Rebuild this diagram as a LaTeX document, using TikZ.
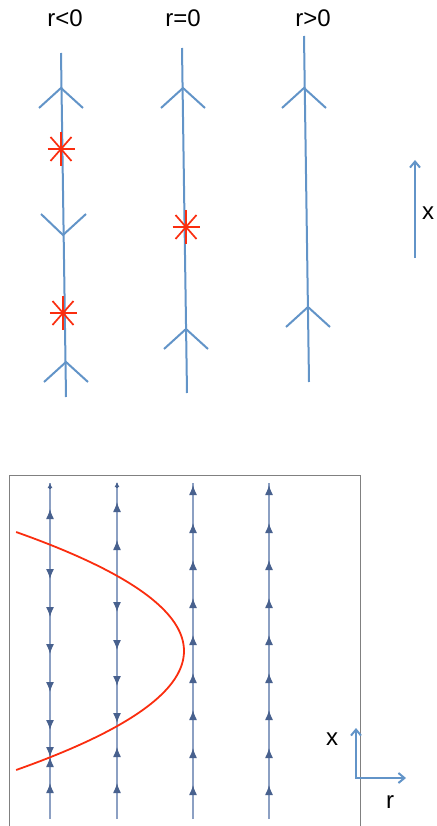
\documentclass[tikz,border=0pt]{standalone}
\usepackage{fontspec}
\setmainfont{Liberation Sans}
\usepackage{tikz}
\usetikzlibrary{arrows.meta, calc}
\definecolor{flowblue}{RGB}{98,148,200}
\definecolor{fixred}{RGB}{250,45,15}
\definecolor{streamgray}{RGB}{140,160,195}
\definecolor{streamhead}{RGB}{72,97,142}
\tikzset{
  flowline/.style={flowblue, line width=2pt},
  fixstar/.style={fixred, line width=1.7pt},
  streamcol/.style={streamgray, line width=1.3pt},
  uptip/.style={streamhead, line width=1.3pt, -{Latex[length=10pt,width=8pt]}},
  lbl/.style={font=\fontsize{24}{28}\selectfont, inner sep=0pt},
}

\begin{document}
\begin{tikzpicture}[x=1pt, y=-1pt]
    \useasboundingbox (0,0) rectangle (436,826);
    % phase lines
    \node[lbl] (lneg) at (65,18) {r<0};
    \node[lbl] (lzero) at (183,18) {r=0};
    \node[lbl] (lpos) at (313,18) {r>0};
    \coordinate (atop) at (61,53);   \coordinate (abot) at (66,397);
    \coordinate (btop) at (182,48);  \coordinate (bbot) at (187,393);
    \coordinate (ctop) at (304,36);  \coordinate (cbot) at (309,382);
    \draw[flowline] (atop) -- (abot);
    \draw[flowline] (btop) -- (bbot);
    \draw[flowline] (ctop) -- (cbot);
    \foreach \ax/\ay in {61/88, 66/362, 183/88, 186/329, 304/88, 308/307}
      \draw[flowline] (\ax-22,\ay+20) -- (\ax,\ay) -- (\ax+22,\ay+20);
    \draw[flowline] (41,214) -- (63,235) -- (86,214);
    \foreach \sx/\sy in {61/149, 63/313, 186/227}{
      \draw[fixstar] (\sx-13.5,\sy) -- (\sx+13.5,\sy);
      \draw[fixstar] (\sx,\sy-17) -- (\sx,\sy+17);
      \draw[fixstar] (\sx-10.5,\sy-12) -- (\sx+10.5,\sy+12);
      \draw[fixstar] (\sx+10.5,\sy-12) -- (\sx-10.5,\sy+12);
    }
    \coordinate (xtail) at (415,258);
    \coordinate (xhead) at (415,160);
    \draw[flowline, -{Straight Barb[length=6pt,width=10pt]}] (xtail) -- (xhead);
    \node[lbl] (xlbl) at (428,213) {x};

    % stream plot
    \draw[gray, line width=1pt] (9.5,826) -- (9.5,475.5) -- (360,475.5) -- (360,826);
    \foreach \cx in {50, 117, 193, 269}
      \draw[streamcol] (\cx,819) -- (\cx,483);
    \foreach \cx in {193, 269}
      \foreach \ty in {485,523,560,598,635,673,710,748,785}
        \draw[uptip] (\cx,\ty+10) -- (\cx,\ty);
    \foreach \ty in {509, 757, 783}
      \draw[uptip] (50,\ty+10) -- (50,\ty);
    \foreach \ty in {579, 617, 654, 692, 730, 757}
      \draw[uptip] (50,\ty-10) -- (50,\ty);
    \draw[uptip, -{Latex[length=5pt,width=5pt]}] (50,489) -- (50,483);
    \foreach \ty in {502, 540, 747, 783}
      \draw[uptip] (117,\ty+10) -- (117,\ty);
    \foreach \ty in {612, 650, 686, 723}
      \draw[uptip] (117,\ty-10) -- (117,\ty);
    \draw[uptip, -{Latex[length=5pt,width=5pt]}] (117,488) -- (117,482);
    \draw[fixred, line width=1.8pt] plot[domain=532:770, samples=80] ({184-0.01186*(\x-651)^2}, \x);
    % axes
    \coordinate (corner) at (356,778);
    \coordinate (xend) at (356,728);
    \coordinate (rend) at (406,778);
    \draw[flowline, {Straight Barb[length=6pt,width=10pt]}-{Straight Barb[length=6pt,width=10pt]}] (xend) -- (corner) -- (rend);
    \node[lbl] (xax) at (332,739) {x};
    \node[lbl] (rax) at (390,802) {r};
\end{tikzpicture}
\end{document}
